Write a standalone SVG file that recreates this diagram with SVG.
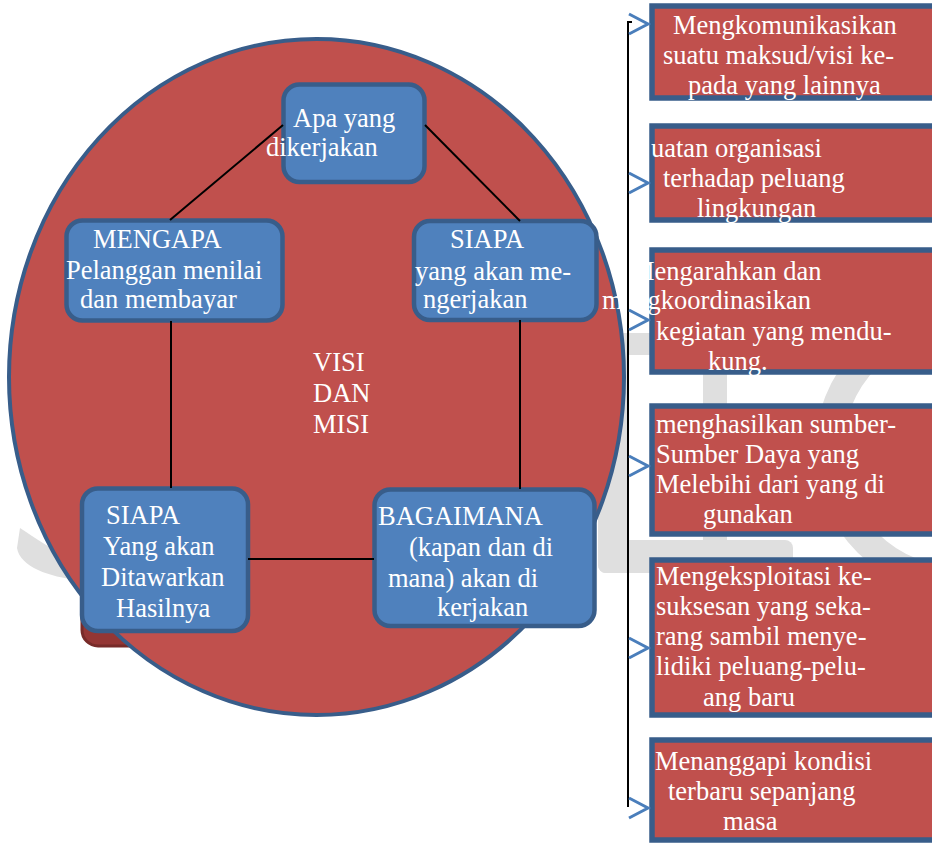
<svg xmlns="http://www.w3.org/2000/svg" width="932" height="844" viewBox="0 0 932 844">
<style>
.wm{fill:#dfdfdf}
.t{font-family:"Liberation Serif","Times New Roman",serif;font-size:26.5px;fill:#ffffff}
.bb{fill:#4f81bd;stroke:#385d8a;stroke-width:4.5}
.rb{fill:#c0504d;stroke:#385d8a;stroke-width:5.5}
.ln{stroke:#000000;stroke-width:2;fill:none}
.ar{stroke:#4a7ebb;stroke-width:3;fill:none;stroke-linejoin:miter}
</style>
<rect width="932" height="844" fill="#ffffff"/>
<g id="watermark">
  <path class="wm" d="M20,528 C35,538 52,550 72,558 L78,580 C50,577 20,567 17,548 Z"/>
  <rect class="wm" x="598" y="333" width="30" height="240" rx="8"/>
  <rect class="wm" x="598" y="333" width="105" height="22"/>
  <rect class="wm" x="703" y="333" width="24" height="234"/>
  <rect class="wm" x="598" y="540" width="195" height="33" rx="8"/>
  <circle cx="960" cy="450" r="131" fill="none" stroke="#dfdfdf" stroke-width="28"/>
</g>
<g id="shadow">
  <rect x="82" y="503" width="166" height="143" rx="16" fill="#943634" stroke="#772b29" stroke-width="3"/>
</g>
<g id="circle">
  <ellipse cx="316.5" cy="377" rx="307.5" ry="338" fill="#c0504d" stroke="#385d8a" stroke-width="4"/>
  <text class="t" x="313" y="371">VISI</text>
  <text class="t" x="313" y="402">DAN</text>
  <text class="t" x="313" y="433">MISI</text>
</g>
<g id="node-apa">
  <rect class="bb" x="283.5" y="84.5" width="141" height="97.5" rx="16"/>
  <text class="t" x="293" y="127">Apa yang</text>
  <text class="t" x="266" y="156">dikerjakan</text>
</g>
<g id="node-mengapa">
  <rect class="bb" x="66.5" y="220.5" width="216" height="100" rx="16"/>
  <text class="t" x="93" y="248">MENGAPA</text>
  <text class="t" x="66" y="279">Pelanggan menilai</text>
  <text class="t" x="80" y="308">dan membayar</text>
</g>
<g id="node-siapa-kanan">
  <rect class="bb" x="414" y="221" width="182.5" height="99" rx="16"/>
  <text class="t" x="450" y="248">SIAPA</text>
  <text class="t" x="415" y="280">yang akan me-</text>
  <text class="t" x="423" y="308">ngerjakan</text>
</g>
<g id="node-siapa-kiri">
  <rect class="bb" x="82" y="488.5" width="166" height="142.5" rx="16"/>
  <text class="t" x="106" y="524">SIAPA</text>
  <text class="t" x="103" y="555">Yang akan</text>
  <text class="t" x="101" y="586">Ditawarkan</text>
  <text class="t" x="116" y="617">Hasilnya</text>
</g>
<g id="node-bagaimana">
  <rect class="bb" x="374.5" y="489.5" width="220" height="136.5" rx="16"/>
  <text class="t" x="378" y="525">BAGAIMANA</text>
  <text class="t" x="409" y="556">(kapan dan di</text>
  <text class="t" x="388" y="587">mana) akan di</text>
  <text class="t" x="437" y="616">kerjakan</text>
</g>
<g id="box-1">
  <rect class="rb" x="652" y="6" width="300" height="92"/>
  <text class="t" x="673" y="34">Mengkomunikasikan</text>
  <text class="t" x="663" y="64">suatu maksud/visi ke-</text>
  <text class="t" x="688" y="94">pada yang lainnya</text>
</g>
<g id="box-2">
  <rect class="rb" x="652" y="126" width="300" height="94"/>
  <text class="t" x="651" y="157">uatan organisasi</text>
  <text class="t" x="663" y="187">terhadap peluang</text>
  <text class="t" x="697" y="217">lingkungan</text>
</g>
<g id="box-3">
  <rect class="rb" x="652" y="250" width="300" height="122"/>
  <text class="t" x="631" y="280">Mengarahkan dan</text>
  <text class="t" x="602" y="309">mengkoordinasikan</text>
  <text class="t" x="656" y="340">kegiatan yang mendu-</text>
  <text class="t" x="708" y="370">kung.</text>
</g>
<g id="box-4">
  <rect class="rb" x="652" y="406" width="300" height="128"/>
  <text class="t" x="656" y="433">menghasilkan sumber-</text>
  <text class="t" x="656" y="463">Sumber Daya yang</text>
  <text class="t" x="656" y="493">Melebihi dari yang di</text>
  <text class="t" x="703" y="523">gunakan</text>
</g>
<g id="box-5">
  <rect class="rb" x="652" y="560" width="300" height="155"/>
  <text class="t" x="656" y="585">Mengeksploitasi ke-</text>
  <text class="t" x="656" y="615">suksesan yang seka-</text>
  <text class="t" x="656" y="645">rang sambil menye-</text>
  <text class="t" x="656" y="675">lidiki peluang-pelu-</text>
  <text class="t" x="703" y="706">ang baru</text>
</g>
<g id="box-6">
  <rect class="rb" x="652" y="740" width="300" height="100"/>
  <text class="t" x="655" y="770">Menanggapi kondisi</text>
  <text class="t" x="668" y="800">terbaru sepanjang</text>
  <text class="t" x="723" y="830">masa</text>
</g>
<g id="connectors">
  <line class="ln" x1="283" y1="125" x2="170" y2="220"/>
  <line class="ln" x1="425" y1="125" x2="520" y2="221"/>
  <line class="ln" x1="171" y1="321" x2="171" y2="488"/>
  <line class="ln" x1="520" y1="320" x2="520" y2="489"/>
  <line class="ln" x1="248" y1="559" x2="374" y2="559"/>
  <polyline class="ln" points="632,22 628,22 628,807"/>
  <polyline class="ar" points="629,14 648,24 629,34"/>
  <polyline class="ar" points="629,173 648,183 629,193"/>
  <polyline class="ar" points="629,310 648,320 629,330"/>
  <polyline class="ar" points="629,456 648,466 629,476"/>
  <polyline class="ar" points="629,638 648,648 629,658"/>
  <polyline class="ar" points="629,798 648,808 629,818"/>
</g>
</svg>
